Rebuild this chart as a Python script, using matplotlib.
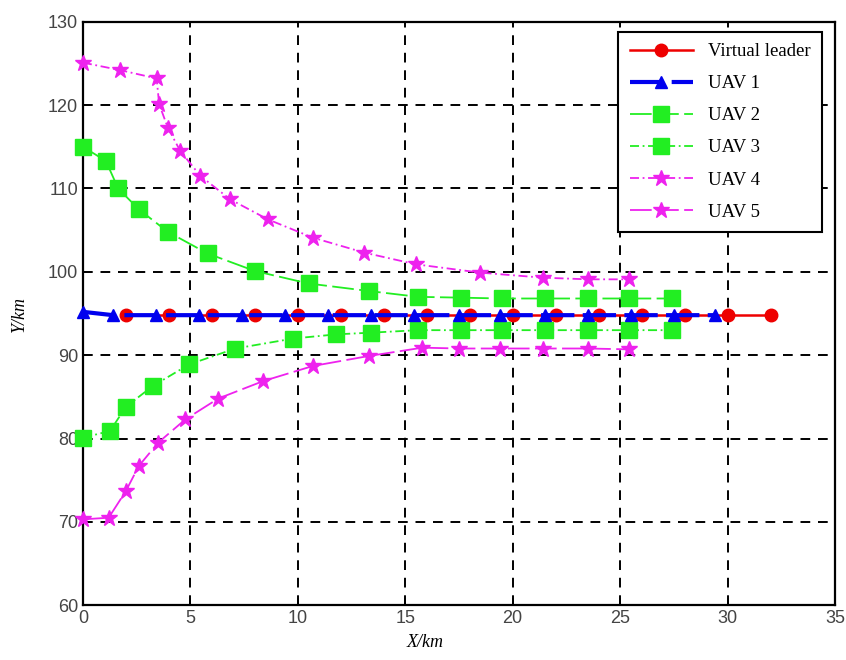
"""UAV formation trajectories converging to the virtual leader."""

import matplotlib
matplotlib.use("Agg")
import matplotlib.pyplot as plt

# trajectories (X/km, Y/km)
leader_x = [2, 4, 6, 8, 10, 12, 14, 16, 18, 20, 22, 24, 26, 28, 30, 32]
leader_y = [94.8] * 16

uav1_x = [0, 1.4, 3.4, 5.4, 7.4, 9.4, 11.4, 13.4, 15.4, 17.5, 19.4, 21.5, 23.5, 25.5, 27.5, 29.4]
uav1_y = [95.2, 94.8, 94.8, 94.8, 94.8, 94.8, 94.8, 94.8, 94.8, 94.8, 94.8, 94.8, 94.8, 94.8, 94.8, 94.8]

uav2_x = [0, 1.07, 1.64, 2.6, 3.95, 5.8, 8.0, 10.5, 13.3, 15.6, 17.6, 19.5, 21.5, 23.5, 25.4, 27.4]
uav2_y = [115, 113.3, 110.0, 107.5, 104.8, 102.2, 100.1, 98.6, 97.7, 97.0, 96.9, 96.8, 96.8, 96.8, 96.8, 96.8]

uav3_x = [0, 1.26, 2.0, 3.25, 4.95, 7.1, 9.8, 11.8, 13.4, 15.6, 17.6, 19.5, 21.5, 23.5, 25.4, 27.4]
uav3_y = [80.1, 80.9, 83.8, 86.3, 88.9, 90.8, 92.0, 92.5, 92.7, 93.0, 93.0, 93.0, 93.0, 93.0, 93.0, 93.0]

uav4_x = [0, 1.73, 3.43, 3.55, 3.95, 4.53, 5.47, 6.85, 8.6, 10.7, 13.1, 15.5, 18.5, 21.4, 23.5, 25.4]
uav4_y = [125.1, 124.2, 123.2, 120.1, 117.3, 114.5, 111.5, 108.7, 106.3, 104.1, 102.3, 100.9, 99.9, 99.3, 99.1, 99.1]

uav5_x = [0, 1.2, 2.0, 2.6, 3.5, 4.77, 6.3, 8.4, 10.7, 13.3, 15.8, 17.5, 19.4, 21.4, 23.5, 25.4]
uav5_y = [70.3, 70.5, 73.7, 76.7, 79.5, 82.3, 84.8, 86.9, 88.7, 89.9, 90.9, 90.8, 90.8, 90.8, 90.8, 90.7]

plt.rcParams["font.family"] = ["Liberation Serif", "DejaVu Serif"]

fig = plt.figure(figsize=(8.46, 6.6), dpi=100)
ax = fig.add_axes([0.098, 0.083, 0.889, 0.884])

ax.plot(leader_x, leader_y, color="#ee0000", lw=1.8, marker="o", ms=9,
        label="Virtual leader", zorder=4, clip_on=False)
ax.plot(uav1_x, uav1_y, color="#0000ee", lw=3, dashes=(8, 2), marker="^", ms=9,
        label="UAV 1", zorder=5, clip_on=False)
ax.plot(uav2_x, uav2_y, color="#22ee22", lw=1.3, dashes=(12, 3), marker="s", ms=11,
        label="UAV 2", zorder=3, clip_on=False)
ax.plot(uav3_x, uav3_y, color="#22ee22", lw=1.3, dashes=(5, 2, 1, 2), marker="s", ms=11,
        label="UAV 3", zorder=3, clip_on=False)
ax.plot(uav4_x, uav4_y, color="#ee22ee", lw=1.3, dashes=(5, 2, 1, 2), marker="*", ms=12,
        label="UAV 4", zorder=3, clip_on=False)
ax.plot(uav5_x, uav5_y, color="#ee22ee", lw=1.3, dashes=(12, 3), marker="*", ms=12,
        label="UAV 5", zorder=3, clip_on=False)

ax.set_xlim(0, 35)
ax.set_ylim(60, 130)
ax.set_xticks(range(0, 36, 5))
ax.set_yticks(range(60, 131, 10))
ax.grid(True, color="black", lw=1.4, dashes=(5, 4))
ax.set_axisbelow(True)

for lbl in ax.get_xticklabels() + ax.get_yticklabels():
    lbl.set_fontfamily("Liberation Sans")
ax.tick_params(labelsize=13, labelcolor="#444444", direction="in", length=5, width=1.2)
for sp in ax.spines.values():
    sp.set_linewidth(1.6)

ax.set_xlabel("X/km", fontsize=13, style="italic", labelpad=4)
ax.xaxis.set_label_coords(0.455, -0.05)
ax.set_ylabel("Y/km", fontsize=13, style="italic", labelpad=14)

leg = ax.legend(loc="upper right", bbox_to_anchor=(0.983, 0.983), borderaxespad=0,
                fontsize=13.5, fancybox=False, framealpha=1, edgecolor="black",
                labelspacing=0.8, handlelength=3.4, borderpad=0.6)
leg.get_frame().set_linewidth(1.5)

fig.savefig("out.png", dpi=100)
